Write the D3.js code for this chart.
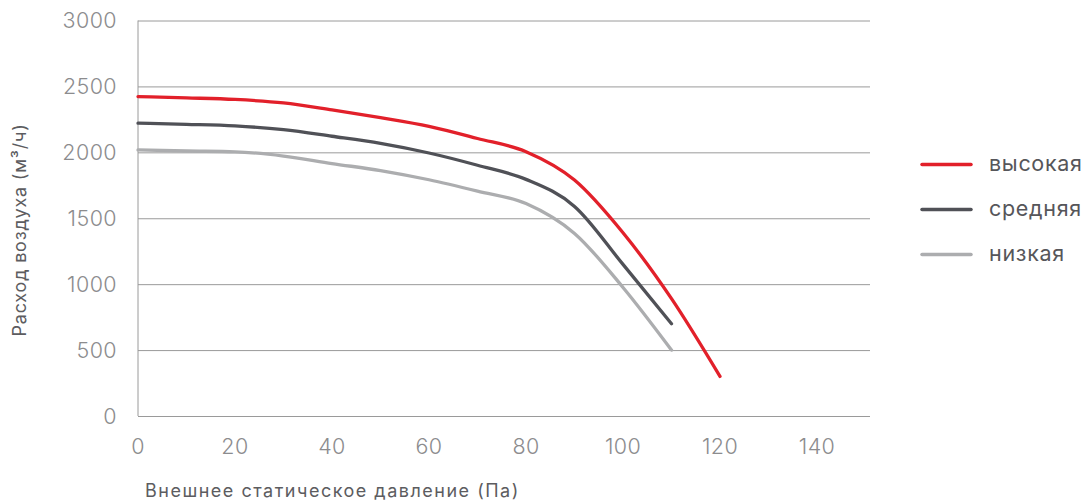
<!DOCTYPE html>
<html>
<head>
<meta charset="utf-8">
<script src="https://cdn.jsdelivr.net/npm/d3@7"></script>
<style>
  body { margin: 0; background: #fff; }
  text { font-family: Inter, "Liberation Sans", Arial, sans-serif; }
</style>
</head>
<body>
<svg id="chart" width="1086" height="501"></svg>
<script>
// data
const pressure = [0, 10, 20, 30, 40, 50, 60, 70, 80, 90, 100, 110, 120]
const high = [2423, 2413, 2401, 2375, 2322, 2263, 2197, 2105, 2005, 1790, 1390, 890, 300]
const mid = [2221, 2212, 2200, 2172, 2122, 2068, 1995, 1902, 1795, 1590, 1150, 700]
const low = [2018, 2010, 2004, 1972, 1915, 1862, 1792, 1706, 1612, 1385, 975, 500]
const seriesNames = ['высокая', 'средняя', 'низкая']
const seriesColors = ['#e2202a', '#505157', '#acadaf']
const xTicks = [0, 20, 40, 60, 80, 100, 120, 140]
const yTicks = [0, 500, 1000, 1500, 2000, 2500, 3000]

const series = [high, mid, low].map((vals, i) => ({
  name: seriesNames[i],
  color: seriesColors[i],
  values: vals.map((v, j) => ({ x: pressure[j], y: v }))
}))

////////////////////////// SETUP //////////////////////////
const svg = d3.select('#chart')
const plotLeft = 138, plotRight = 865.5, plotTop = 20.5, plotBottom = 416

const xScale = d3.scaleLinear().domain([0, 150]).range([plotLeft, plotRight])
const yScale = d3.scaleLinear().domain([0, 3000]).range([plotBottom, plotTop])

// grid lines
svg.append('g')
  .attr('transform', `translate(${plotLeft},0)`)
  .call(d3.axisLeft(yScale).tickValues(yTicks).tickSize(-(870 - plotLeft)).tickFormat(''))
  .call(g => g.select('.domain').remove())
  .selectAll('line')
    .attr('stroke', '#9a9a9a')
    .attr('stroke-width', 1)

// left vertical line
svg.append('line')
  .attr('x1', plotLeft).attr('x2', plotLeft)
  .attr('y1', plotTop).attr('y2', plotBottom)
  .attr('stroke', '#9a9a9a')

// y tick labels
svg.append('g')
  .selectAll('text')
  .data(yTicks)
  .enter()
  .append('text')
  .attr('x', 117)
  .attr('y', d => yScale(d))
  .attr('dy', '0.36em')
  .attr('text-anchor', 'end')
  .attr('fill', '#8c8c8e')
  .style('font-size', '21.5px')
  .style('font-weight', 300)
  .style('letter-spacing', '0.4px')
  .text(d => d)

// x tick labels
svg.append('g')
  .selectAll('text')
  .data(xTicks)
  .enter()
  .append('text')
  .attr('x', d => xScale(d))
  .attr('y', 454)
  .attr('text-anchor', 'middle')
  .attr('fill', '#8c8c8e')
  .style('font-size', '21.5px')
  .style('font-weight', 300)
  .style('letter-spacing', '0.4px')
  .text(d => d)

// axis titles
svg.append('text')
  .attr('transform', 'translate(26,230) rotate(-90)')
  .attr('text-anchor', 'middle')
  .attr('fill', '#5c5c60')
  .style('font-size', '18px')
  .style('letter-spacing', '0.8px')
  .text('Расход воздуха  (м³/ч)')

svg.append('text')
  .attr('x', 145)
  .attr('y', 497)
  .attr('fill', '#5c5c60')
  .style('font-size', '18px')
  .style('letter-spacing', '1.5px')
  .text('Внешнее статическое давление (Па)')

////////////////////////// LINES //////////////////////////
const line = d3.line()
  .x(d => xScale(d.x))
  .y(d => yScale(d.y))
  .curve(d3.curveMonotoneX)

svg.append('g')
  .selectAll('path')
  .data(series.slice().reverse())
  .enter()
  .append('path')
  .attr('d', d => line(d.values))
  .attr('fill', 'none')
  .attr('stroke', d => d.color)
  .attr('stroke-width', 3.3)
  .attr('stroke-linecap', 'round')

// legend
const legend = svg.append('g')
  .selectAll('g')
  .data(series)
  .enter()
  .append('g')
  .attr('transform', (d, i) => `translate(0,${164.5 + i * 45})`)

legend.append('line')
  .attr('x1', 922).attr('x2', 971)
  .attr('stroke', d => d.color)
  .attr('stroke-width', 3.5)
  .attr('stroke-linecap', 'round')

legend.append('text')
  .attr('x', 989)
  .attr('dy', '0.3em')
  .attr('fill', '#56565a')
  .style('font-size', '21.5px')
  .style('letter-spacing', '0.7px')
  .text(d => d.name)
</script>
</body>
</html>
